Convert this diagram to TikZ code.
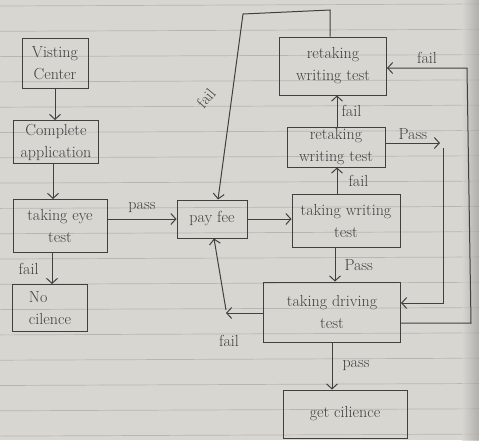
\documentclass[tikz,border=0pt]{standalone}
\usetikzlibrary{arrows.meta}
\definecolor{paper}{HTML}{D8D6D1}
\definecolor{rulecol}{HTML}{B6B6B4}
\definecolor{ink}{HTML}{404040}
\begin{document}
\begin{tikzpicture}[x=1pt,y=-1pt,
  box/.style={draw=ink, line width=1pt, inner sep=0pt, text=ink, align=center,
              font=\fontsize{16}{22}\selectfont},
  conn/.style={draw=ink, line width=1pt, -{Straight Barb[length=5pt,width=11pt]}},
  lbl/.style={text=ink, font=\fontsize{16}{18}\selectfont, inner sep=1pt}]
% paper
\fill[paper] (0,0) rectangle (479,440);
\useasboundingbox (0,0) rectangle (479,440);
\foreach \k in {0,...,17}
  \draw[rulecol, line width=0.7pt] (0,{6+25.3*\k}) -- (479,{4+25.3*\k});
\shade[left color=paper, right color=paper!70!black, opacity=0.6] (462,0) rectangle (479,440);

% boxes
\node[box, minimum width=66, minimum height=50] (visit) at (55,63) {Visting\\Center};
\node[box, minimum width=85, minimum height=43] (app) at (56,142) {Complete\\application};
\node[box, minimum width=94, minimum height=53] (eye) at (60,226) {taking eye\\test};
\node[box, minimum width=75, minimum height=47, align=left] (nolic) at (50,308) {No\\cilence};
\node[box, minimum width=70, minimum height=38] (fee) at (212,219) {pay fee};
\node[box, minimum width=108, minimum height=53] (write) at (346,221) {taking writing\\test};
\node[box, minimum width=98, minimum height=40] (retake2) at (336,147) {retaking\\writing test};
\node[box, minimum width=107, minimum height=58] (retake1) at (333,66) {retaking\\writing test};
\node[box, minimum width=137, minimum height=60] (drive) at (332,312) {taking driving\\test};
\node[box, minimum width=124, minimum height=48] (getlic) at (345,414) {get cilience};

% main chain
\draw[conn] (visit.south) -- (visit.south |- app.north);
\draw[conn] ([xshift=-3]app.south) -- ([xshift=-3]app.south |- eye.north);
\draw[conn] (eye.east |- fee.west) -- (fee.west) node[lbl, midway, above=5pt] {pass};
\draw[conn] ([xshift=-8]eye.south) -- ([xshift=-8]eye.south |- nolic.north)
  node[lbl, midway, left=12pt] {fail};
\draw[conn] (fee.east) -- (fee.east -| write.west);
\draw[conn] ([xshift=-11]write.south) -- ([xshift=-11]write.south |- drive.north)
  node[lbl, midway, right=8pt] {Pass};
\draw[conn] ([xshift=-9]write.north) -- ([xshift=-9]write.north |- retake2.south)
  node[lbl, midway, right=10pt] {fail};
\draw[conn] ([xshift=1]retake2.north) -- ([xshift=1]retake2.north |- retake1.south)
  node[lbl, midway, right=3pt] {fail};
\draw[conn] (drive.south) -- (drive.south |- getlic.north)
  node[lbl, midway, right=9pt] {pass};

% retake2 pass -> drive
\coordinate (pa) at (440,143);
\coordinate (pc1) at (443,148);
\coordinate (pc2) at (443,303);
\draw[conn] (retake2.east |- pa) -- (pa) node[lbl, midway, above=2pt] {Pass};
\draw[conn] (pc1) -- (pc2) -- (pc2 -| drive.east);

% drive fail -> retake1
\coordinate (fc1) at (471,323);
\coordinate (fc2) at (467,68);
\draw[conn] (drive.east |- fc1) -- (fc1) -- (fc2) -- (fc2 -| retake1.east)
  node[lbl, midway, above=3pt] {fail};

% retake1 fail -> pay fee
\coordinate (tc1) at (330,10);
\coordinate (tc2) at (243,14);
\draw[conn] (retake1.north -| tc1) -- (tc1) -- (tc2) -- ([xshift=6]fee.north);
\node[lbl, rotate=50] (tfail) at (206,98) {fail};

% drive fail -> pay fee
\coordinate (dc) at (226,313);
\draw[conn] (drive.west |- dc) -- (dc);
\draw[conn] ([yshift=3]dc) -- ([xshift=2]fee.south);
\node[lbl] (dfail) at (229,341) {fail};
\end{tikzpicture}
\end{document}
